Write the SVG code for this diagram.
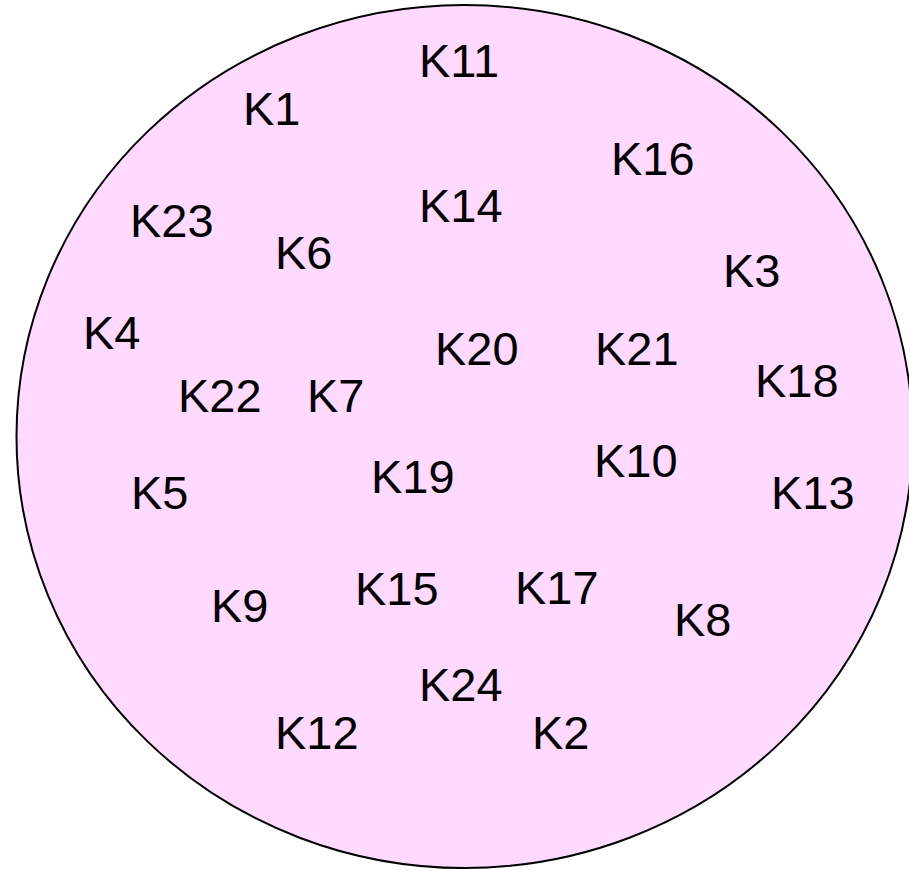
<svg xmlns="http://www.w3.org/2000/svg" width="909" height="870" viewBox="0 0 909 870">
<style>
.lbl{font-family:"Liberation Sans",Arial,sans-serif;font-size:47px;fill:#000}
</style>
<rect width="909" height="870" fill="#fff"/>
<g id="set">
<ellipse cx="464.5" cy="436.5" rx="448" ry="431.5" fill="#ffd9ff" stroke="#000" stroke-width="2"/>
</g>
<g id="nodes">
<g id="K11"><text class="lbl" x="419" y="77">K11</text></g>
<g id="K1"><text class="lbl" x="243" y="125">K1</text></g>
<g id="K16"><text class="lbl" x="611" y="175">K16</text></g>
<g id="K14"><text class="lbl" x="419" y="222">K14</text></g>
<g id="K23"><text class="lbl" x="130" y="237">K23</text></g>
<g id="K6"><text class="lbl" x="275" y="269">K6</text></g>
<g id="K3"><text class="lbl" x="723" y="287">K3</text></g>
<g id="K4"><text class="lbl" x="83" y="349">K4</text></g>
<g id="K20"><text class="lbl" x="435" y="365">K20</text></g>
<g id="K21"><text class="lbl" x="595" y="365">K21</text></g>
<g id="K18"><text class="lbl" x="755" y="397">K18</text></g>
<g id="K22"><text class="lbl" x="178" y="412">K22</text></g>
<g id="K7"><text class="lbl" x="307" y="412">K7</text></g>
<g id="K19"><text class="lbl" x="371" y="493">K19</text></g>
<g id="K10"><text class="lbl" x="594" y="477">K10</text></g>
<g id="K5"><text class="lbl" x="131" y="509">K5</text></g>
<g id="K13"><text class="lbl" x="771" y="509">K13</text></g>
<g id="K15"><text class="lbl" x="355" y="605">K15</text></g>
<g id="K17"><text class="lbl" x="515" y="604">K17</text></g>
<g id="K9"><text class="lbl" x="211" y="622">K9</text></g>
<g id="K8"><text class="lbl" x="674" y="636">K8</text></g>
<g id="K24"><text class="lbl" x="419" y="701">K24</text></g>
<g id="K12"><text class="lbl" x="275" y="749">K12</text></g>
<g id="K2"><text class="lbl" x="532" y="749">K2</text></g>
</g>
<g id="connectors"/>
</svg>
